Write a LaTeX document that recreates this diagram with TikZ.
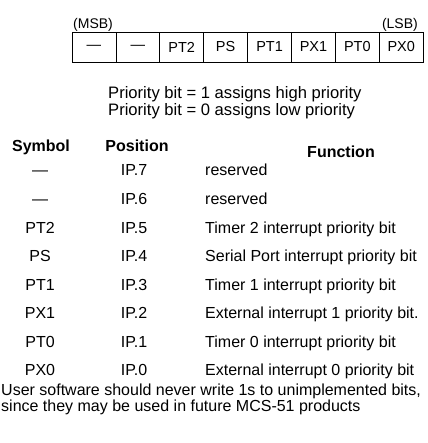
\documentclass[tikz,border=0pt]{standalone}
\usepackage{fontspec}
\setmainfont{Liberation Sans}
\usetikzlibrary{positioning}
\tikzset{
    regbit/.style={draw,line width=0.8pt,minimum width=43.9pt,minimum height=30pt,
                   inner sep=0pt,outer sep=0pt,font=\fontsize{14.5}{16}\selectfont},
    tag/.style={font=\fontsize{14}{16}\selectfont,inner sep=0pt},
    head/.style={font=\fontsize{16}{19}\selectfont\bfseries,inner sep=0pt,anchor=base},
    body/.style={font=\fontsize{16}{19}\selectfont,inner sep=0pt,anchor=base},
    fun/.style={body,anchor=base west},
    rule/.style={font=\fontsize{16.6}{19}\selectfont,inner sep=0pt,anchor=base west}
}

\begin{document}
\begin{tikzpicture}[x=1pt,y=-1pt]
                \useasboundingbox (0,0) rectangle (427,443);

                \node[regbit,anchor=north west] (b7) at (72,32) {---};
                \node[regbit] (b6) [right=0pt of b7] {---};
                \node[regbit] (b5) [right=0pt of b6] {PT2};
                \node[regbit] (b4) [right=0pt of b5] {PS};
                \node[regbit] (b3) [right=0pt of b4] {PT1};
                \node[regbit] (b2) [right=0pt of b3] {PX1};
                \node[regbit] (b1) [right=0pt of b2] {PT0};
                \node[regbit] (b0) [right=0pt of b1] {PX0};

                \node[tag,anchor=base west] (msb) at (73,29)  {(MSB)};
                \node[tag,anchor=base east] (lsb) at (418,29) {(LSB)};

                \node[rule] (high) at (108,99)  {Priority bit = 1 assigns high priority};
                \node[rule] (low)  at (108,116) {Priority bit = 0 assigns low priority};

                \node[head] (symhead) at (41,152)  {Symbol};
                \node[head] (poshead) at (137,152) {Position};
                \node[head] (funhead) at (341,158) {Function};

                \foreach \sym/\pos/\txt [count=\i from 0] in {
                    ---/IP.7/reserved,
                    ---/IP.6/reserved,
                    PT2/IP.5/Timer 2 interrupt priority bit,
                    PS/IP.4/Serial Port interrupt priority bit,
                    PT1/IP.3/Timer 1 interrupt priority bit,
                    PX1/IP.2/External interrupt 1 priority bit.,
                    PT0/IP.1/Timer 0 interrupt priority bit,
                    PX0/IP.0/External interrupt 0 priority bit}
                {
                    \node[body] (sym\i) at (40,176+28.5*\i)  {\sym};
                    \node[body] (pos\i) at (134,176+28.5*\i) {\pos};
                    \node[fun]  (fun\i) at (205,176+28.5*\i) {\txt};
                }

                \node[fun] (note1) at (1,395)
                    {User software should never write 1s to unimplemented bits,};
                \node[fun] (note2) at (1,411)
                    {since they may be used in future MCS-51 products};

            \end{tikzpicture}
\end{document}
